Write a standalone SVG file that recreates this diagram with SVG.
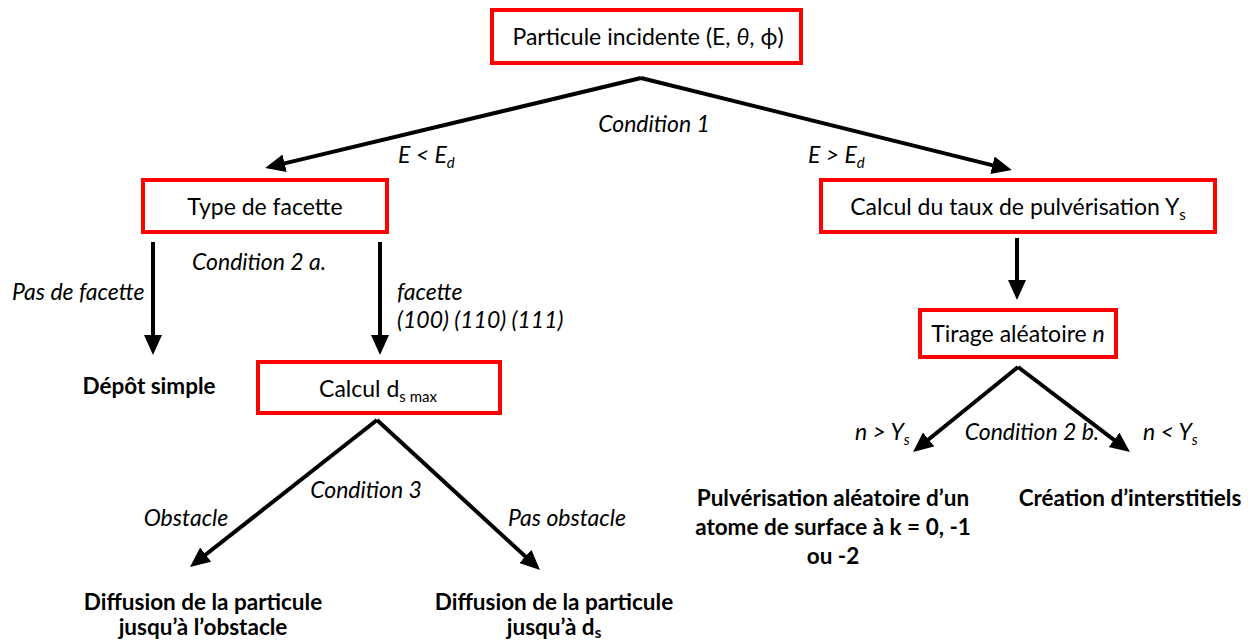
<svg xmlns="http://www.w3.org/2000/svg" width="1259" height="643" viewBox="0 0 1259 643">
<defs>
<style>
.box{fill:#fff;stroke:#f00;stroke-width:4}
.t{font-family:Lato,"Liberation Sans",sans-serif;font-size:23px;fill:#000}
.i{font-style:italic}
.b{font-weight:bold;font-size:22.5px}
.c{text-anchor:middle}
.s{font-size:15px}
.ln{fill:none;stroke:#000;stroke-width:4}
.ar{fill:none;stroke:#000;stroke-width:4;marker-end:url(#ah)}
</style>
<marker id="ah" markerUnits="userSpaceOnUse" markerWidth="22" markerHeight="20" refX="14" refY="9" orient="auto" viewBox="0 0 22 20">
<path d="M0,0 L20,9 L0,18 z" fill="#000"/>
</marker>
</defs>
<rect width="1259" height="643" fill="#fff"/>
<g id="connectors">
<path class="ar" d="M641,78 L271,166.6"/>
<path class="ar" d="M641,78 L1006,168.6"/>
<path class="ar" d="M153,242 L153,349"/>
<path class="ar" d="M380,242 L380,349"/>
<path class="ar" d="M1017,238 L1017,294"/>
<path class="ar" d="M1018,367 L917.7,448.2"/>
<path class="ar" d="M1018,367 L1125.2,448.4"/>
<path class="ar" d="M377,420 L194.7,563.3"/>
<path class="ar" d="M377,420 L535.6,565.9"/>
<text class="t i c" x="654" y="132">Condition 1</text>
<text class="t i" x="398" y="163">E &lt; E<tspan class="s" dy="5">d</tspan></text>
<text class="t i" x="808" y="163">E &gt; E<tspan class="s" dy="5">d</tspan></text>
<text class="t i" x="192" y="270">Condition 2 a.</text>
<text class="t i" x="12" y="300">Pas de facette</text>
<text class="t i" x="397" y="300">facette</text>
<text class="t i" x="397" y="328">(100) (110) (111)</text>
<text class="t i c" x="366" y="498">Condition 3</text>
<text class="t i c" x="186" y="526">Obstacle</text>
<text class="t i c" x="567" y="526">Pas obstacle</text>
<text class="t i" x="855" y="440">n &gt;  Y<tspan class="s" dy="5">s</tspan></text>
<text class="t i c" x="1032" y="440">Condition 2 b.</text>
<text class="t i" x="1143" y="440">n &lt; Y<tspan class="s" dy="5">s</tspan></text>
</g>
<g id="n-particule">
<rect class="box" x="492" y="10" width="309" height="53"/>
<text class="t c" x="648" y="45">Particule incidente (E, <tspan class="i">θ</tspan>, ϕ)</text>
</g>
<g id="n-type">
<rect class="box" x="143" y="180" width="244" height="52"/>
<text class="t c" x="265" y="215">Type de facette</text>
</g>
<g id="n-taux">
<rect class="box" x="821" y="180" width="394" height="52"/>
<text class="t c" x="1018" y="215">Calcul du taux de pulvérisation Y<tspan class="s" dy="5">s</tspan></text>
</g>
<g id="n-tirage">
<rect class="box" x="920" y="310" width="196" height="47"/>
<text class="t c" x="1018" y="342">Tirage aléatoire <tspan class="i">n</tspan></text>
</g>
<g id="n-calcul">
<rect class="box" x="258" y="362" width="242" height="51"/>
<text class="t c" x="378" y="397">Calcul d<tspan class="s" dy="5">s max</tspan></text>
</g>
<g id="n-depot">
<text class="t b c" x="149" y="394">Dépôt simple</text>
</g>
<g id="n-pulv">
<text class="t b c" x="833" y="506">Pulvérisation aléatoire d’un</text>
<text class="t b c" x="833" y="535">atome de surface à k = 0, -1</text>
<text class="t b c" x="833" y="564">ou -2</text>
</g>
<g id="n-creation">
<text class="t b c" x="1130" y="506">Création d’interstitiels</text>
</g>
<g id="n-diff1">
<text class="t b c" x="203" y="610">Diffusion de la particule</text>
<text class="t b c" x="203" y="635">jusqu’à l’obstacle</text>
</g>
<g id="n-diff2">
<text class="t b c" x="554" y="610">Diffusion de la particule</text>
<text class="t b c" x="554" y="635">jusqu’à d<tspan class="s" dy="3">s</tspan></text>
</g>
</svg>
